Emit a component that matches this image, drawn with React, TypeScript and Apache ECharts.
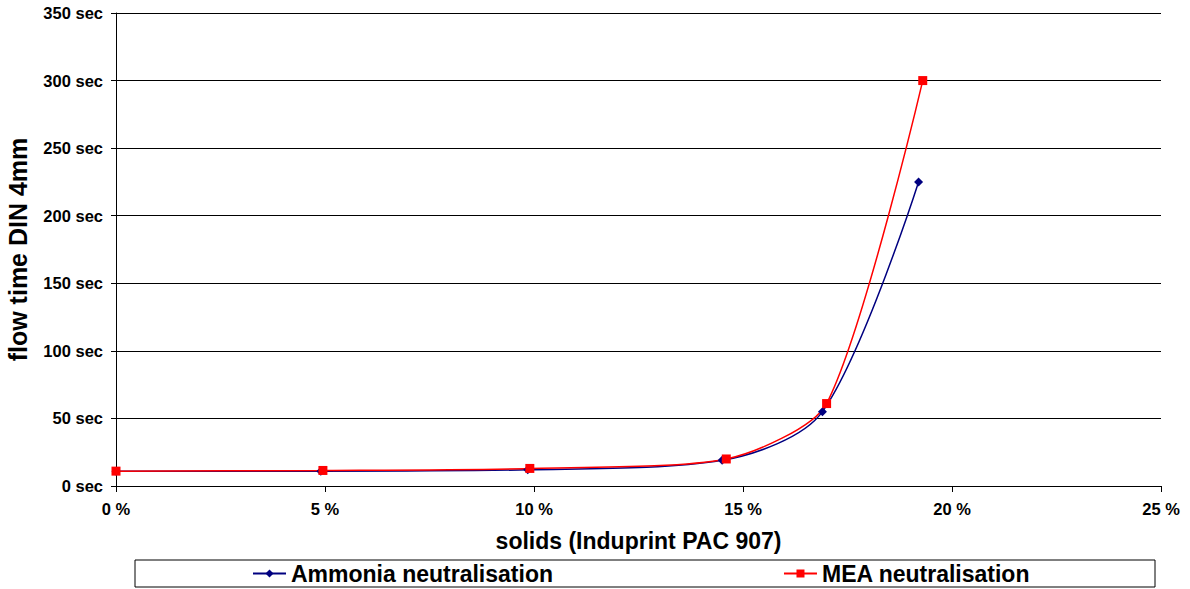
import React, { useEffect, useRef } from "react";
import * as echarts from "echarts";

const ammoniaX = [0, 4.9, 9.85, 14.5, 16.9, 19.2];
const ammoniaY = [11, 11, 12, 19, 55, 225];
const meaX = [0, 4.95, 9.9, 14.6, 17.0, 19.3];
const meaY = [11, 11.5, 13, 20, 61, 300];
const xTicks = [0, 5, 10, 15, 20, 25];
const yTicks = [0, 50, 100, 150, 200, 250, 300, 350];

const FONT = "'Liberation Sans', Arial, sans-serif";

export default function App() {
  const ref = useRef<HTMLDivElement>(null);
  useEffect(() => {
    if (!ref.current) return;
    const chart = echarts.init(ref.current, null, { renderer: "svg" });
    chart.setOption({
      animation: false,
      backgroundColor: "#fff",
      grid: {
        left: 116,
        right: 29,
        top: 13,
        bottom: 103,
        containLabel: false,
        outerBoundsMode: "none",
      },
      xAxis: {
        type: "value",
        min: xTicks[0],
        max: xTicks[xTicks.length - 1],
        interval: 5,
        name: "solids (Induprint PAC 907)",
        nameLocation: "middle",
        nameGap: 43,
        nameTextStyle: { fontFamily: FONT, fontWeight: "bold", fontSize: 23, color: "#000" },
        axisLine: { lineStyle: { color: "#000", width: 1 } },
        axisTick: { show: true, length: 6, inside: false, lineStyle: { color: "#000" } },
        axisLabel: {
          formatter: (v: number) => v + " %",
          fontFamily: FONT,
          fontWeight: "bold",
          fontSize: 16.5,
          color: "#000",
          margin: 14,
        },
        splitLine: { show: false },
      },
      yAxis: {
        type: "value",
        min: yTicks[0],
        max: yTicks[yTicks.length - 1],
        interval: 50,
        name: "flow time DIN 4mm",
        nameLocation: "middle",
        nameGap: 86,
        nameTextStyle: { fontFamily: FONT, fontWeight: "bold", fontSize: 25, color: "#000" },
        axisLine: { show: true, lineStyle: { color: "#000", width: 1 } },
        axisTick: { show: true, length: 5, lineStyle: { color: "#000" } },
        axisLabel: {
          formatter: (v: number) => v + " sec",
          fontFamily: FONT,
          fontWeight: "bold",
          fontSize: 16.5,
          color: "#000",
          margin: 13,
        },
        splitLine: { show: true, lineStyle: { color: "#000", width: 1 } },
      },
      legend: {
        top: 562,
        left: 252,
        itemGap: 230,
        itemWidth: 33,
        itemHeight: 10,
        padding: 0,
        textStyle: { fontFamily: FONT, fontWeight: "bold", fontSize: 23, color: "#000" },
        data: ["Ammonia neutralisation", "MEA neutralisation"],
      },
      graphic: [
        {
          type: "rect",
          shape: { x: 135, y: 560, width: 1020, height: 27 },
          style: { fill: "none", stroke: "#000", lineWidth: 1 },
          silent: true,
        },
      ],
      series: [
        {
          name: "Ammonia neutralisation",
          type: "line",
          smooth: 0.3,
          data: ammoniaX.map((x, i) => [x, ammoniaY[i]]),
          symbol: "diamond",
          symbolSize: 9,
          itemStyle: { color: "#000080" },
          lineStyle: { color: "#000080", width: 1.5 },
        },
        {
          name: "MEA neutralisation",
          type: "line",
          smooth: 0.25,
          data: meaX.map((x, i) => [x, meaY[i]]),
          symbol: "rect",
          symbolSize: 9,
          itemStyle: { color: "#ff0000" },
          lineStyle: { color: "#ff0000", width: 1.5 },
        },
      ],
    });
    return () => chart.dispose();
  }, []);
  return (
    <div
      ref={ref}
      style={{ position: "fixed", left: 0, top: 0, width: 1190, height: 589 }}
    />
  );
}
